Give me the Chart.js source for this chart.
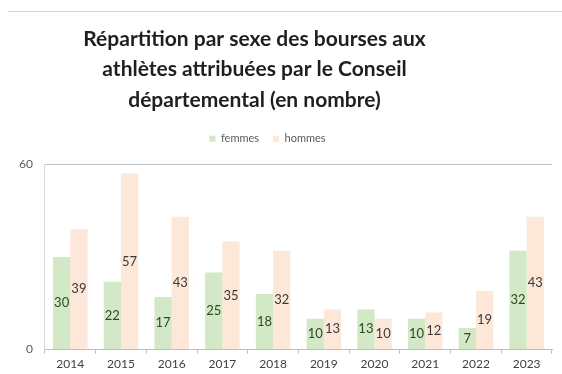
<!DOCTYPE html>
<html lang="fr">
<head>
<meta charset="utf-8">
<script src="https://cdn.jsdelivr.net/npm/chart.js@4/dist/chart.umd.min.js"></script>
<style>
  html, body { margin: 0; padding: 0; background: #ffffff; }
  #wrap { width: 562px; height: 374px; position: relative; }
</style>
</head>
<body>
<div id="wrap"><canvas id="c" width="562" height="374"></canvas></div>
<script>
// Bourses aux athlètes attribuées par le Conseil départemental, par sexe
const annees = ['2014', '2015', '2016', '2017', '2018', '2019', '2020', '2021', '2022', '2023'];
const femmes = [30, 22, 17, 25, 18, 10, 13, 10, 7, 32];
const hommes = [39, 57, 43, 35, 32, 13, 10, 12, 19, 43];
const graduationsY = [0, 60];

const titre = [
  'Répartition par sexe des bourses aux',
  'athlètes attribuées par le Conseil',
  'départemental (en nombre)'
];

// Values written in the middle of each bar
const valeursAuCentre = {
  id: 'valeursAuCentre',
  afterDatasetsDraw(chart) {
    const ctx = chart.ctx;
    ctx.save();
    ctx.font = '13px Lato, "Liberation Sans", sans-serif';
    ctx.textAlign = 'center';
    ctx.textBaseline = 'middle';
    chart.data.datasets.forEach((ds, i) => {
      const meta = chart.getDatasetMeta(i);
      ctx.fillStyle = ds.labelColor;
      meta.data.forEach((bar, j) => {
        const y = (bar.y + bar.base) / 2;
        ctx.fillText(String(ds.data[j]), bar.x, y);
      });
    });
    ctx.restore();
  }
};

// Frame line across the top, extra room under the legend, re-centred title / legend
const cadre = {
  id: 'cadre',
  beforeUpdate(chart) {
    const l = chart.legend;
    if (l && !l._espace) {
      const fit = l.fit.bind(l);
      l.fit = function () { fit(); this.height += 10; };
      l._espace = true;
    }
  },
  afterLayout(chart) {
    const t = chart.titleBlock;
    if (t) { t.left -= 25; t.right -= 25; }
    const l = chart.legend;
    if (l) { l.left -= 12; l.right -= 12; }
  },
  beforeDraw(chart) {
    const ctx = chart.ctx;
    ctx.save();
    ctx.strokeStyle = '#d4d4d4';
    ctx.lineWidth = 1;
    ctx.beginPath();
    ctx.moveTo(8, 11.5);
    ctx.lineTo(chart.width, 11.5);
    ctx.stroke();
    ctx.restore();
  }
};

new Chart(document.getElementById('c'), {
  type: 'bar',
  data: {
    labels: annees,
    datasets: [
      {
        label: 'femmes',
        data: femmes,
        backgroundColor: 'rgb(210, 232, 198)',
        labelColor: '#2f4a22',
        categoryPercentage: 0.68,
        barPercentage: 1.0
      },
      {
        label: 'hommes',
        data: hommes,
        backgroundColor: 'rgb(252, 231, 216)',
        labelColor: '#3a3a3a',
        categoryPercentage: 0.68,
        barPercentage: 1.0
      }
    ]
  },
  options: {
    responsive: false,
    animation: false,
    devicePixelRatio: 1,
    layout: { padding: { top: 24, left: 7, right: 10, bottom: 0 } },
    plugins: {
      title: {
        display: true,
        text: titre,
        color: '#1f1f1f',
        font: { family: 'Lato, "Liberation Sans", sans-serif', size: 21, weight: 'bold', lineHeight: 1.45 },
        padding: { top: 0, bottom: 4 }
      },
      legend: {
        display: true,
        labels: {
          boxWidth: 6,
          boxHeight: 6,
          padding: 14,
          color: '#595959',
          font: { family: 'Lato, "Liberation Sans", sans-serif', size: 11 }
        }
      },
      tooltip: { enabled: false }
    },
    scales: {
      x: {
        grid: {
          offset: true,
          drawOnChartArea: false,
          drawTicks: true,
          tickLength: 4,
          color: '#bfbfbf'
        },
        border: { color: '#bfbfbf' },
        ticks: {
          color: '#404040',
          padding: 3,
          font: { family: 'Lato, "Liberation Sans", sans-serif', size: 12 }
        }
      },
      y: {
        min: 0,
        max: 60,
        afterBuildTicks(scale) {
          scale.ticks = graduationsY.map(v => ({ value: v }));
        },
        grid: { color: '#bfbfbf', drawTicks: false },
        border: { color: '#d9d9d9' },
        ticks: {
          color: '#595959',
          padding: 12,
          font: { family: 'Lato, "Liberation Sans", sans-serif', size: 12 }
        }
      }
    }
  },
  plugins: [valeursAuCentre, cadre]
});
</script>
</body>
</html>
